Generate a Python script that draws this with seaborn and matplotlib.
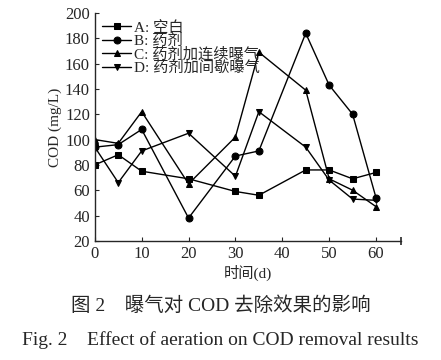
import numpy as np
import pandas as pd
import seaborn as sns
import matplotlib.pyplot as plt

# COD values
days = [0, 5, 10, 20, 30, 35, 45, 50, 55, 60]
cod_a = [80, 88, 75, 69, 59, 56, 76, 76, 69, 74]
cod_b = [94, 96, 108, 38, 87, 91, 184, 143, 120, 54]
cod_c = [100, 97, 122, 65, 102, 169, 139, 69, 60, 47]
cod_d = [94, 66, 91, 105, 71, 122, 94, 68, 53, 52]
labels = ["A: 空白", "B: 药剂", "C: 药剂加连续曝气", "D: 药剂加间歇曝气"]

df = pd.concat([
    pd.DataFrame({"day": days, "cod": v, "group": lab})
    for v, lab in zip([cod_a, cod_b, cod_c, cod_d], labels)
])

sns.set_style("ticks")
plt.rcParams["font.family"] = ["Liberation Serif", "Noto Sans CJK SC"]
plt.rcParams["xtick.direction"] = "in"
plt.rcParams["ytick.direction"] = "in"

fig = plt.figure(figsize=(4.41, 3.6), dpi=100)
ax = fig.add_axes([0.215, 0.331, 0.694, 0.633])

sns.lineplot(data=df, x="day", y="cod", hue="group", style="group",
             markers=["s", "o", "^", "v"], dashes=False,
             palette=["black"] * 4, linewidth=1, markersize=5,
             markeredgecolor="black", ax=ax)

ax.set_xlim(0, 65.3)
ax.set_ylim(20, 200)
ax.set_xticks([0, 10, 20, 30, 40, 50, 60])
ax.set_yticks(range(20, 201, 20))
ax.set_xticks([65.3], minor=True)
ax.tick_params(axis="x", which="minor", length=6, direction="inout", width=1.2)
ax.tick_params(labelsize=12, length=3, width=0.8)
for s in ["top", "right"]:
    ax.spines[s].set_visible(False)
ax.spines["left"].set_linewidth(1)
ax.spines["bottom"].set_linewidth(1)

ax.set_xlabel("时间(d)", fontsize=11, labelpad=2)
ax.set_ylabel("COD (mg/L)", fontsize=11, labelpad=2)

leg = ax.legend(loc="upper left", frameon=False, fontsize=11,
                handlelength=1.9, handletextpad=0.15, labelspacing=-0.05,
                borderaxespad=0.1, bbox_to_anchor=(0.0, 1.0))

fig.text(0.5, 0.15, "图 2　曝气对 COD 去除效果的影响", ha="center", va="center", fontsize=14)
fig.text(0.5, 0.056, "Fig. 2　Effect of aeration on COD removal results", ha="center", va="center", fontsize=14)

plt.savefig("out.png", dpi=100)
